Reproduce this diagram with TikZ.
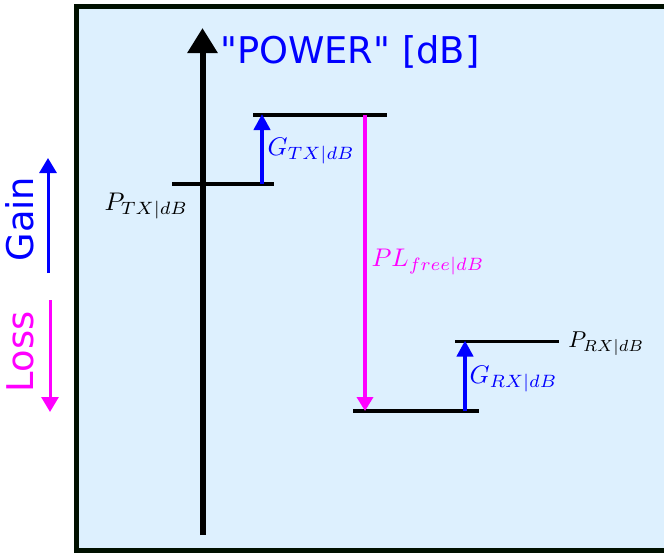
\documentclass[tikz,border=0pt]{standalone}
\usepackage{fontspec}
\newfontfamily\dv{DejaVu Sans}
\usetikzlibrary{arrows.meta}
\definecolor{bgblue}{HTML}{DDF0FE}
\definecolor{framec}{HTML}{001000}
\definecolor{mag}{HTML}{FF00FF}
\definecolor{blu}{HTML}{0000FF}
\begin{document}
\begin{tikzpicture}[x=1pt,y=-1pt,
  level/.style={line width=3.5pt,draw=black},
  gainarrow/.style={line width=4pt,draw=blu,-{Triangle[width=16pt,length=16pt]}},
  lossarrow/.style={line width=3.5pt,draw=mag,-{Triangle[width=16pt,length=14pt]}},
  legarrow/.style={line width=3pt,-{Triangle[width=17pt,length=15pt]}},
  mathlbl/.style={inner sep=0pt,anchor=base west,scale=2.55,transform shape},
  sanslbl/.style={inner sep=0pt,font=\dv\fontsize{36.8}{40}\selectfont}]
\useasboundingbox (0,0) rectangle (664,552);
% frame
\path[fill=white] (0,0) rectangle (664,552);
\draw[fill=bgblue,draw=framec,line width=5pt] (76.5,6.5) rectangle (700,550.5);
% main axis
\coordinate (axb) at (202.5,535);
\coordinate (axt) at (202.5,28);
\draw[line width=6pt,-{Triangle[width=29pt,length=25pt]}] (axb) -- (axt);
\node[sanslbl,anchor=base west,text=blu] (power) at (220,63) {"POWER" [dB]};
% levels
\coordinate (tx1) at (172,184); \coordinate (tx2) at (274,184);
\coordinate (tt1) at (253,115); \coordinate (tt2) at (387,115);
\coordinate (bb1) at (353,411); \coordinate (bb2) at (479,411);
\coordinate (rx1) at (455,341.5); \coordinate (rx2) at (559,341.5);
\draw[level] (tx1) -- (tx2);
\draw[level] (tt1) -- (tt2);
\draw[level] (bb1) -- (bb2);
\draw[level] (rx1) -- (rx2);
% arrows between levels
\coordinate (gtxs) at (262,184); \coordinate (gtxe) at (262,114);
\draw[gainarrow] (gtxs) -- (gtxe);
\coordinate (pls) at (365,115); \coordinate (ple) at (365,411);
\draw[lossarrow] (pls) -- (ple);
\coordinate (grxs) at (465,411); \coordinate (grxe) at (465,340.5);
\draw[gainarrow] (grxs) -- (grxe);
% labels
\node[mathlbl] (ptx) at (104,210) {$P_{TX|dB}$};
\node[mathlbl,text=blu] (gtx) at (267,155) {$G_{TX|dB}$};
\node[mathlbl,text=mag] (pl) at (371,266) {$PL_{free|dB}$};
\node[mathlbl,scale=0.9] (prx) at (568,347) {$P_{RX|dB}$};
\node[mathlbl,text=blu] (grx) at (469,383) {$G_{RX|dB}$};
% legend
\node[sanslbl,rotate=90,text=blu] (gain) at (20,219) {Gain};
\node[sanslbl,rotate=90,text=mag] (loss) at (20,352) {Loss};
\coordinate (ga1) at (48,273); \coordinate (ga2) at (48,158);
\draw[legarrow,draw=blu] (ga1) -- (ga2);
\coordinate (la1) at (50,300); \coordinate (la2) at (50,412);
\draw[legarrow,draw=mag] (la1) -- (la2);
\end{tikzpicture}
\end{document}
